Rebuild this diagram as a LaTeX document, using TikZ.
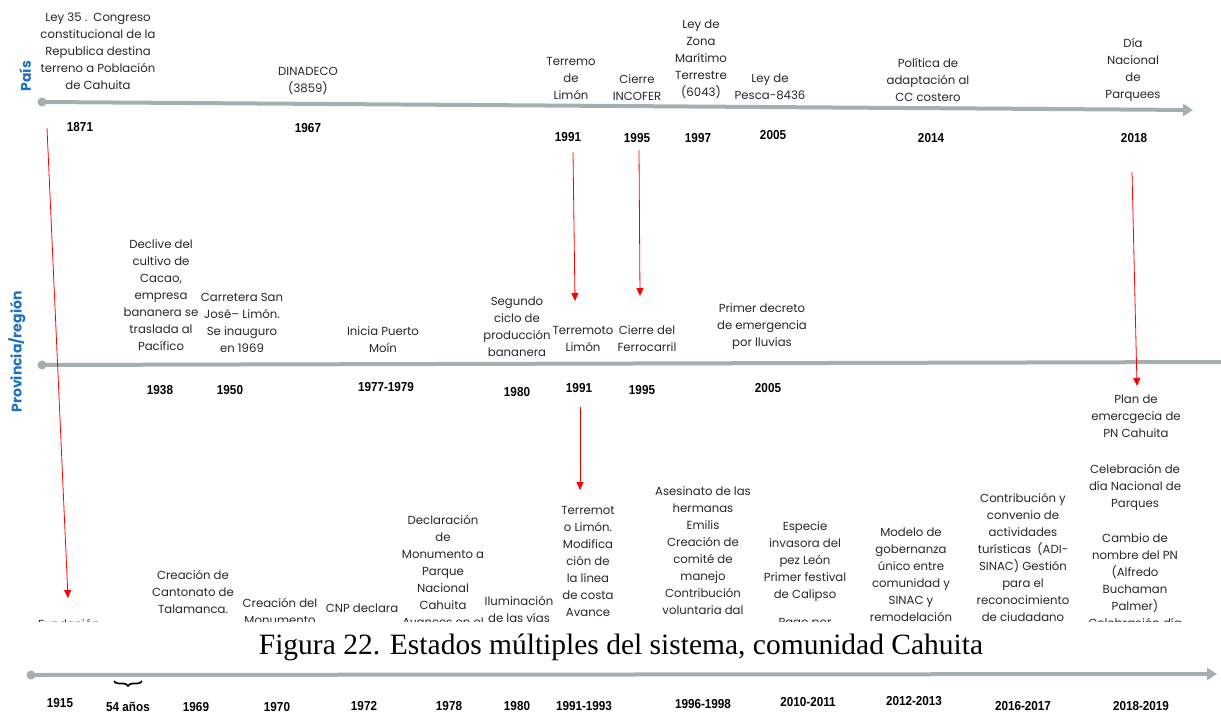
\documentclass[tikz,border=0pt]{standalone}
\usepackage{fontspec}
\newfontfamily\gothic{Poppins}
\newfontfamily\yearf[FakeStretch=0.9]{Liberation Sans}
\newfontfamily\capf{Liberation Serif}
\usetikzlibrary{arrows.meta,decorations.pathreplacing}
\definecolor{tlgray}{RGB}{165,174,177}
\definecolor{lblblue}{RGB}{31,111,192}
\definecolor{txt}{RGB}{40,40,40}
\definecolor{arrred}{RGB}{255,0,0}
\begin{document}
\begin{tikzpicture}[x=1pt,y=-1pt,
  ev/.style={font=\gothic\fontsize{11.7}{17}\selectfont, text=txt, align=center, inner sep=0pt},
  yr/.style={font=\yearf\bfseries\fontsize{13}{15}\selectfont, inner sep=0pt},
  tl/.style={line width=4pt, draw=tlgray},
  tlarrow/.style={tl, -{Triangle[length=10pt,width=12pt]}},
  ra/.style={draw=arrred, line width=0.8pt, -{Triangle[length=8pt,width=7pt]}},
  dotnode/.style={circle, fill=tlgray, minimum size=9pt, inner sep=0pt},
  lbl/.style={rotate=90, font=\gothic\bfseries\fontsize{14}{16}\selectfont, text=lblblue, inner sep=0pt}
]
\useasboundingbox[fill=white] (0,0) rectangle (1221,715);

% timelines
\node[dotnode] (d1) at (42,102) {};
\coordinate (e1) at (1193,110);
\draw[tlarrow] (d1.center) -- (e1);
\node[dotnode] (d2) at (42,365) {};
\coordinate (e2) at (1221,362);
\draw[tl] (d2.center) -- (e2);
\node[dotnode] (d3) at (31,675) {};
\coordinate (e3) at (1217,674);
\draw[tlarrow] (d3.center) -- (e3);

% side labels
\node[lbl] (pais) at (25,76) {País};
\node[lbl] (prov) at (17,352) {Provincia/región};

% ---- País ----
\node[ev] (ley35) at (98,51) {Ley 35 .\ \ Congreso\\constitucional de la\\Republica destina\\terreno a Población\\de Cahuita};
\node[ev] (dinadeco) at (308,81) {DINADECO\\(3859)};
\node[ev] (terremo) at (571,78.5) {Terremo\\de\\Limón};
\node[ev] (incofer) at (637,87.5) {Cierre\\INCOFER};
\node[ev] (zona) at (701,59) {Ley de\\Zona\\Marítimo\\Terrestre\\(6043)};
\node[ev] (pesca) at (770,86.5) {Ley de\\Pesca-8436};
\node[ev] (politica) at (928,80) {Política de\\adaptación al\\CC costero};
\node[ev] (diaparques) at (1133,70) {Día\\Nacional\\de\\Parquees};

\node[yr] (t1871) at (80,127) {1871};
\node[yr] (t1967) at (308,128) {1967};
\node[yr] (t1991) at (568,137) {1991};
\node[yr] (t1995) at (637,138) {1995};
\node[yr] (t1997) at (698,138) {1997};
\node[yr] (t2005) at (773,135) {2005};
\node[yr] (t2014) at (931,138) {2014};
\node[yr] (t2018) at (1134,138) {2018};

% ---- Provincia ----
\node[ev] (declive) at (161,295.5) {Declive del\\cultivo de\\Cacao,\\empresa\\bananera se\\traslada al\\Pacífico};
\node[ev] (carretera) at (242,323) {Carretera San\\José– Limón.\\Se inauguro\\en 1969};
\node[ev] (puerto) at (383,340) {Inicia Puerto\\Moín};
\node[ev] (segundo) at (517,327) {Segundo\\ciclo de\\producción\\bananera};
\node[ev] (terremoto) at (583,339) {Terremoto\\Limón};
\node[ev] (ferro) at (647,339) {Cierre del\\Ferrocarril};
\node[ev] (decreto) at (762,327) {Primer decreto\\de emergencia\\por lluvias};
\node[ev] (plan) at (1136,416.5) {Plan de\\emercgecia de\\PN Cahuita};

\node[yr] (p1938) at (160,390) {1938};
\node[yr] (p1950) at (230,390) {1950};
\node[yr] (p1977) at (386,387) {1977-1979};
\node[yr] (p1980) at (517,392) {1980};
\node[yr] (p1991) at (579,388) {1991};
\node[yr] (p1995) at (642,390) {1995};
\node[yr] (p2005) at (768,388) {2005};

% ---- Comunidad (clipped) ----
\begin{scope}
\clip (0,440) rectangle (1221,621);
\node[ev] (celeb) at (1135,487) {Celebración de\\día Nacional de\\Parques};
\node[ev] (cambio) at (1135,581) {Cambio de\\nombre del PN\\(Alfredo\\Buchaman\\Palmer)\\Celebración día};
\node[ev] (contrib) at (1023,557) {Contribución y\\convenio de\\actividades\\turísticas\ \ (ADI-\\SINAC) Gestión\\para el\\reconocimiento\\de ciudadano};
\node[ev] (modelo) at (911,574.5) {Modelo de\\gobernanza\\único entre\\comunidad y\\SINAC y\\remodelación};
\node[ev] (especie) at (805,562) {Especie\\invasora del\\pez León\\Primer festival\\de Calipso};
\node[ev] (pago) at (805,624) {Pago por};
\node[ev] (asesinato) at (703,551) {Asesinato de las\\hermanas\\Emilis\\Creación de\\comité de\\manejo\\Contribución\\voluntaria dal};
\node[ev] (terremot) at (588,561) {Terremot\\o Limón.\\Modifica\\ción de\\la línea\\de costa\\Avance};
\node[ev] (ilum) at (519,609) {Iluminación\\de las vías};
\node[ev] (declar) at (443,570.5) {Declaración\\de\\Monumento a\\Parque\\Nacional\\Cahuita\\Avances en el};
\node[ev] (cnp) at (362,608) {CNP declara};
\node[ev] (monum) at (280,611) {Creación del\\Monumento};
\node[ev] (talam) at (193,591.5) {Creación de\\Cantonato de\\Talamanca.};
\node[ev] (fund) at (69,624) {Fundación};
\end{scope}

% caption
\node[font=\capf\fontsize{29.5}{33}\selectfont, inner sep=0pt] (caption) at (621,647) {Figura 22. Estados múltiples del sistema, comunidad Cahuita};

% bottom years
\node[yr] (c1915) at (60,703) {1915};
\node[yr] (c54) at (128,707) {54 años};
\node[yr] (c1969) at (196,707) {1969};
\node[yr] (c1970) at (277,707) {1970};
\node[yr] (c1972) at (364,706) {1972};
\node[yr] (c1978) at (449,706) {1978};
\node[yr] (c1980) at (517,706) {1980};
\node[yr] (c1991) at (584,706) {1991-1993};
\node[yr] (c1996) at (703,704) {1996-1998};
\node[yr] (c2010) at (808,702) {2010-2011};
\node[yr] (c2012) at (914,701) {2012-2013};
\node[yr] (c2016) at (1023,706) {2016-2017};
\node[yr] (c2018) at (1141,706) {2018-2019};
\coordinate (b1) at (114,681);
\coordinate (b2) at (142,681);
\draw[decorate, decoration={brace, mirror, amplitude=5pt}, line width=1.6pt] (b1) -- (b2);

% red arrows
\coordinate (r1s) at (47,128); \coordinate (r1e) at (68,598);
\draw[ra] (r1s) -- (r1e);
\coordinate (r2s) at (573,152); \coordinate (r2e) at (575,301);
\draw[ra] (r2s) -- (r2e);
\coordinate (r3s) at (639,150); \coordinate (r3e) at (640,296);
\draw[ra] (r3s) -- (r3e);
\coordinate (r4s) at (1132,172); \coordinate (r4e) at (1137,386);
\draw[ra] (r4s) -- (r4e);
\coordinate (r5s) at (580,407); \coordinate (r5e) at (580,490);
\draw[ra] (r5s) -- (r5e);
\end{tikzpicture}
\end{document}
